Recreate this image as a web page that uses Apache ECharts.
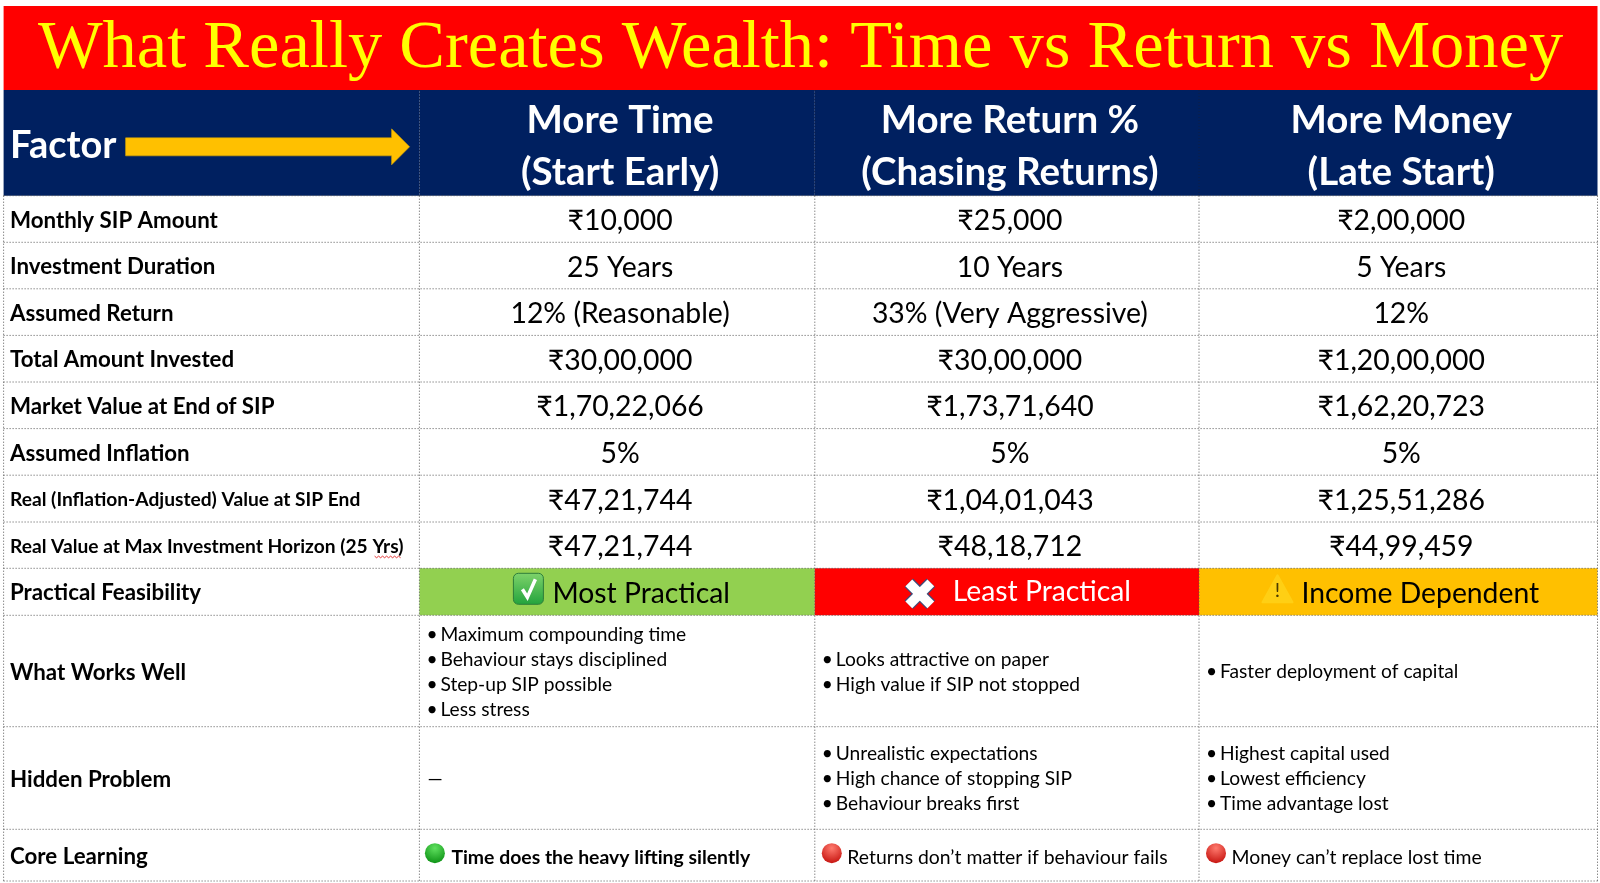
<!DOCTYPE html>
<html>
<head>
<meta charset="utf-8">
<script src="https://cdn.jsdelivr.net/npm/echarts@6/dist/echarts.min.js"></script>
<style>
  html, body { margin: 0; padding: 0; background: #fff; }
  #chart { width: 1600px; height: 883px; }
</style>
</head>
<body>
<div id="chart"></div>
<script>
// table text
const title = 'What Really Creates Wealth: Time vs Return vs Money';
const factorLabel = 'Factor';
const headers = ['More Time\n(Start Early)', 'More Return %\n(Chasing Returns)', 'More Money\n(Late Start)'];
const rowLabels = [
  'Monthly SIP Amount', 'Investment Duration', 'Assumed Return', 'Total Amount Invested',
  'Market Value at End of SIP', 'Assumed Inflation', 'Real (Inflation-Adjusted) Value at SIP End',
  'Real Value at Max Investment Horizon (25 Yrs)', 'Practical Feasibility', 'What Works Well',
  'Hidden Problem', 'Core Learning'
];
const sipAmount = ['₹10,000', '₹25,000', '₹2,00,000'];
const duration = ['25 Years', '10 Years', '5 Years'];
const assumedReturn = ['12% (Reasonable)', '33% (Very Aggressive)', '12%'];
const totalInvested = ['₹30,00,000', '₹30,00,000', '₹1,20,00,000'];
const marketValue = ['₹1,70,22,066', '₹1,73,71,640', '₹1,62,20,723'];
const inflation = ['5%', '5%', '5%'];
const realValueEnd = ['₹47,21,744', '₹1,04,01,043', '₹1,25,51,286'];
const realValueMax = ['₹47,21,744', '₹48,18,712', '₹44,99,459'];
const feasibility = ['Most Practical', 'Least Practical', 'Income Dependent'];
const worksWell = [
  ['Maximum compounding time', 'Behaviour stays disciplined', 'Step-up SIP possible', 'Less stress'],
  ['Looks attractive on paper', 'High value if SIP not stopped'],
  ['Faster deployment of capital']
];
const hiddenProblem = [
  ['—'],
  ['Unrealistic expectations', 'High chance of stopping SIP', 'Behaviour breaks first'],
  ['Highest capital used', 'Lowest efficiency', 'Time advantage lost']
];
const coreLearning = ['Time does the heavy lifting silently', 'Returns don’t matter if behaviour fails', 'Money can’t replace lost time'];

// table layout, in axis units
const colEdges = [3.6, 419.4, 814.8, 1199, 1597.5];
const rowEdges = [6, 90, 195.7, 242.3, 288.8, 335.4, 382, 428.6, 475.2, 522, 568.3, 615.3, 726.7, 829.3, 881];

const SANS = 'Lato, "Noto Sans", sans-serif';
const NAVY = '#002060', RED = '#ff0000', GREEN = '#92d050', AMBER = '#ffc000';
const feasibilityFill = [GREEN, RED, AMBER];
const feasibilityInk = ['#000', '#fff', '#000'];

const valueRows = [sipAmount, duration, assumedReturn, totalInvested, marketValue, inflation, realValueEnd, realValueMax];

// one entry per cell; col/row index the edge arrays
const cells = [];
cells.push({ value: [0, 0], kind: 'title', text: title });
cells.push({ value: [0, 1], kind: 'factor', text: factorLabel });
headers.forEach((h, i) => cells.push({ value: [i + 1, 1], kind: 'header', text: h }));
rowLabels.forEach((l, r) => cells.push({ value: [0, r + 2], kind: 'label', text: l, small: r === 6 || r === 7 }));
valueRows.forEach((row, r) => row.forEach((v, c) => cells.push({ value: [c + 1, r + 2], kind: 'value', text: v })));
feasibility.forEach((t, c) => cells.push({ value: [c + 1, 10], kind: 'feasible', text: t, idx: c }));
worksWell.forEach((l, c) => cells.push({ value: [c + 1, 11], kind: 'bullets', lines: l }));
hiddenProblem.forEach((l, c) => cells.push({ value: [c + 1, 12], kind: 'bullets', lines: l, plain: c === 0 }));
coreLearning.forEach((t, c) => cells.push({ value: [c + 1, 13], kind: 'core', text: t, idx: c }));

function txt(x, y, text, size, o) {
  o = o || {};
  return {
    type: 'text',
    style: {
      x: x, y: y, text: text, fontSize: size, fontFamily: o.family || SANS,
      fontWeight: o.weight || 'normal', fill: o.fill || '#000',
      textAlign: o.align || 'left', textVerticalAlign: 'middle',
      lineHeight: o.lineHeight
    }
  };
}

function rectEl(x, y, w, h, fill) {
  return { type: 'rect', shape: { x: x, y: y, width: w, height: h }, style: { fill: fill } };
}

function ball(cx, cy, main, dark) {
  return {
    type: 'circle', shape: { cx: cx, cy: cy, r: 10 },
    style: {
      fill: {
        type: 'radial', x: 0.5, y: 0.25, r: 0.8,
        colorStops: [{ offset: 0, color: main }, { offset: 1, color: dark }]
      }
    }
  };
}

function checkIcon(x, y) {
  return [
    {
      type: 'rect', shape: { x: x, y: y, width: 30, height: 31, r: 5 },
      style: {
        fill: { type: 'linear', x: 0, y: 0, x2: 0, y2: 1, colorStops: [{ offset: 0, color: '#7fd36b' }, { offset: 1, color: '#22a33c' }] },
        stroke: '#2d7d3a', lineWidth: 1
      }
    },
    {
      type: 'polyline',
      shape: { points: [[x + 9, y + 16], [x + 14, y + 24], [x + 22, y + 6]] },
      style: { fill: null, stroke: '#fff', lineWidth: 3.5 }
    }
  ];
}

function crossIcon(cx, cy) {
  const d = 11;
  const pts = [[cx - d, cy - d], [cx + d, cy + d]];
  const pts2 = [[cx + d, cy - d], [cx - d, cy + d]];
  return [
    { type: 'line', shape: { x1: pts[0][0], y1: pts[0][1], x2: pts[1][0], y2: pts[1][1] }, style: { stroke: '#3d4a78', lineWidth: 12 } },
    { type: 'line', shape: { x1: pts2[0][0], y1: pts2[0][1], x2: pts2[1][0], y2: pts2[1][1] }, style: { stroke: '#3d4a78', lineWidth: 12 } },
    { type: 'line', shape: { x1: pts[0][0], y1: pts[0][1], x2: pts[1][0], y2: pts[1][1] }, style: { stroke: '#fff', lineWidth: 9.5 } },
    { type: 'line', shape: { x1: pts2[0][0], y1: pts2[0][1], x2: pts2[1][0], y2: pts2[1][1] }, style: { stroke: '#fff', lineWidth: 9.5 } }
  ];
}

function warnIcon(cx, top) {
  return [
    {
      type: 'polygon',
      shape: { points: [[cx, top], [cx + 15, top + 27], [cx - 15, top + 27]] },
      style: { fill: '#ffcf14', stroke: '#ffcf14', lineWidth: 2, lineJoin: 'round' }
    },
    txt(cx, top + 15, '!', 20, { align: 'center', fill: '#4a3a00' })
  ];
}

function renderCell(params, api) {
  const cell = cells[params.dataIndex];
  const c = api.value(0), r = api.value(1);
  const p0 = api.coord([colEdges[c], rowEdges[r]]);
  const p1 = api.coord([colEdges[c + 1], rowEdges[r + 1]]);
  const x = p0[0], y = p0[1], w = p1[0] - p0[0], h = p1[1] - p0[1];
  const cx = x + w / 2, cy = y + h / 2;
  let kids = [];

  if (cell.kind === 'title') {
    const pe = api.coord([colEdges[4], rowEdges[1]]);
    kids.push(rectEl(x, y, pe[0] - x, h, RED));
    kids.push(txt((x + pe[0]) / 2, cy + 1.5, cell.text, 68.5, { family: '"Liberation Serif", serif', fill: '#ffff00', align: 'center' }));
  } else if (cell.kind === 'factor') {
    const my = cy + 4;
    kids.push(rectEl(x, y, w, h, NAVY));
    kids.push(txt(x + 6.4, my - 1, cell.text, 38, { weight: 'bold', fill: '#fff' }));
    kids.push({
      type: 'polygon',
      shape: {
        points: [[x + 122, my - 9], [x + 388, my - 9], [x + 388, my - 18], [x + 406, my],
          [x + 388, my + 18], [x + 388, my + 9], [x + 122, my + 9]]
      },
      style: { fill: AMBER, stroke: '#d9a400', lineWidth: 0.6 }
    });
  } else if (cell.kind === 'header') {
    kids.push(rectEl(x, y, w, h, NAVY));
    const lines = cell.text.split('\n');
    kids.push(txt(cx + 3, y + 31, lines[0], 38.5, { weight: 'bold', fill: '#fff', align: 'center' }));
    kids.push(txt(cx + 3, y + 83, lines[1], 38.5, { weight: 'bold', fill: '#fff', align: 'center' }));
    // faint divider on the navy band
    kids.push({ type: 'line', shape: { x1: x, y1: y, x2: x, y2: y + h }, style: { stroke: '#0f1f45', lineWidth: 1, lineDash: [1, 2] } });
  } else if (cell.kind === 'label') {
    kids.push(txt(x + 6.4, cy + 1.5, cell.text, cell.small ? 19.2 : 22.3, { weight: 'bold' }));
    if (cell.small && cell.text.indexOf('Yrs') >= 0) {
      // spell-check squiggle under "Yrs"
      const pts = [];
      for (let i = 0; i <= 13; i++) pts.push([x + 371 + i * 2, cy + 11 + (i % 2) * 1.6]);
      kids.push({ type: 'polyline', shape: { points: pts }, style: { fill: null, stroke: '#e02020', lineWidth: 0.9 } });
    }
  } else if (cell.kind === 'value') {
    kids.push(txt(cx + 3, cy + 2, cell.text, 28.4, { align: 'center' }));
  } else if (cell.kind === 'feasible') {
    kids.push(rectEl(x, y, w, h, feasibilityFill[cell.idx]));
    if (cell.idx === 0) {
      kids = kids.concat(checkIcon(x + 94, y + 5));
      kids.push(txt(x + 133, cy + 2, cell.text, 28.3, { fill: feasibilityInk[0] }));
    } else if (cell.idx === 1) {
      kids = kids.concat(crossIcon(x + 105, cy + 2));
      kids.push(txt(x + 138, cy + 0.5, cell.text, 28.3, { fill: feasibilityInk[1] }));
    } else {
      kids = kids.concat(warnIcon(x + 78.5, y + 7));
      kids.push(txt(x + 102.5, cy + 2.5, cell.text, 28.3, { fill: feasibilityInk[2] }));
    }
  } else if (cell.kind === 'bullets') {
    const lineH = 25;
    const top = cy + 1 - (cell.lines.length - 1) * lineH / 2;
    cell.lines.forEach((line, i) => {
      const ly = top + i * lineH;
      if (cell.plain) {
        kids.push(txt(x + 8, ly, line, 19.2, {}));
      } else {
        kids.push(txt(x + 7, ly, '•', 19.2, {}));
        kids.push(txt(x + 21, ly, line, 19.2, {}));
      }
    });
  } else if (cell.kind === 'core') {
    const dx = [15.5, 17, 17][cell.idx];
    kids.push(cell.idx === 0 ? ball(x + dx, cy - 2, '#5fe05f', '#0a8f12') : ball(x + dx, cy - 2, '#ff7a6e', '#c4100c'));
    kids.push(txt(x + [32, 32.5, 32.5][cell.idx], cy + 3, cell.text, 19.4, { weight: cell.idx === 0 ? 'bold' : 'normal' }));
  }
  return { type: 'group', children: kids };
}

// dotted rules between cells
const vRules = colEdges.map((_, i) => [i]);
const hRules = rowEdges.slice(2).map((_, i) => [i + 2]);

function renderRule(params, api) {
  const idx = api.value(0), isRow = api.value(1) === 1;
  const a = isRow ? api.coord([colEdges[0], rowEdges[idx]]) : api.coord([colEdges[idx], rowEdges[2]]);
  const b = isRow ? api.coord([colEdges[4], rowEdges[idx]]) : api.coord([colEdges[idx], rowEdges[14]]);
  return {
    type: 'line',
    shape: { x1: a[0], y1: a[1], x2: b[0], y2: b[1] },
    style: { stroke: '#555', lineWidth: 1, lineDash: [1, 2] }
  };
}

const chart = echarts.init(document.getElementById('chart'));
chart.setOption({
  animation: false,
  backgroundColor: '#fff',
  grid: { left: 0, right: 0, top: 0, bottom: 0 },
  xAxis: { type: 'value', min: 0, max: 1600, show: false },
  yAxis: { type: 'value', min: 0, max: 883, inverse: true, show: false },
  series: [
    { type: 'custom', silent: true, clip: false, renderItem: renderCell, data: cells.map(c => c.value), z: 2 },
    {
      type: 'custom', silent: true, clip: false, renderItem: renderRule, z: 3,
      data: vRules.map(v => [v[0], 0]).concat(hRules.map(v => [v[0], 1]))
    }
  ]
});
</script>
</body>
</html>
